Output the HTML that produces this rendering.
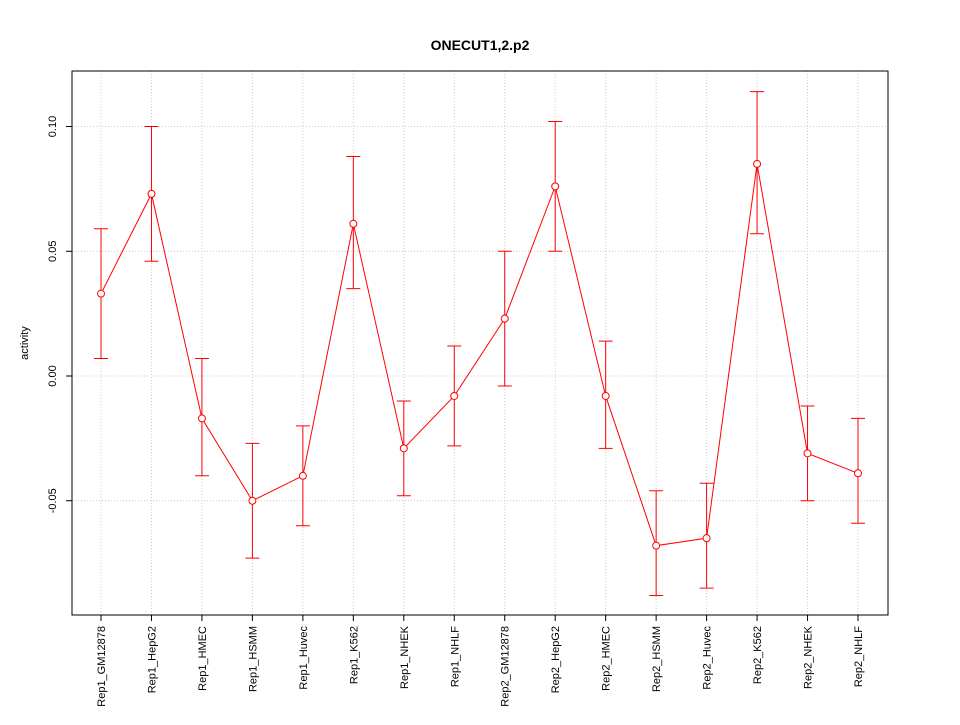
<!DOCTYPE html>
<html><head><meta charset="utf-8">
<style>
body{margin:0;background:#fff;}
svg text{font-family:"Liberation Sans",sans-serif;}
</style></head>
<body>
<svg id="chart" width="960" height="720" xmlns="http://www.w3.org/2000/svg">
<rect width="960" height="720" fill="#fff"/>
<text x="480" y="50" text-anchor="middle" font-size="14" font-weight="bold">ONECUT1,2.p2</text>
<text transform="translate(28,343) rotate(-90)" text-anchor="middle" font-size="11">activity</text>
<g id="grid"></g><g id="axes"></g><g id="marks"></g>
<rect x="72" y="71" width="816" height="544" fill="none" stroke="#000"/>
</svg>
<script>
const categories=["Rep1_GM12878","Rep1_HepG2","Rep1_HMEC","Rep1_HSMM","Rep1_Huvec","Rep1_K562","Rep1_NHEK","Rep1_NHLF","Rep2_GM12878","Rep2_HepG2","Rep2_HMEC","Rep2_HSMM","Rep2_Huvec","Rep2_K562","Rep2_NHEK","Rep2_NHLF"];
const values=[0.033,0.073,-0.017,-0.050,-0.040,0.061,-0.029,-0.008,0.023,0.076,-0.008,-0.068,-0.065,0.085,-0.031,-0.039];
const upper=[0.059,0.100,0.007,-0.027,-0.020,0.088,-0.010,0.012,0.050,0.102,0.014,-0.046,-0.043,0.114,-0.012,-0.017];
const lower=[0.007,0.046,-0.040,-0.073,-0.060,0.035,-0.048,-0.028,-0.004,0.050,-0.029,-0.088,-0.085,0.057,-0.050,-0.059];
const yTicks=[-0.05,0.00,0.05,0.10];
const yTickLabels=["-0.05","0.00","0.05","0.10"];
const NS="http://www.w3.org/2000/svg";
const x=i=>101+i*(858-101)/(categories.length-1);
const y=v=>376-v*2495;
function mk(tag,attrs,parent){const e=document.createElementNS(NS,tag);for(const k in attrs)e.setAttribute(k,attrs[k]);document.getElementById(parent).appendChild(e);return e;}
yTicks.forEach((t,i)=>{
 const g=mk("line",{x1:72,x2:888,y1:y(t),y2:y(t),stroke:"#ccc","stroke-dasharray":"1,2"},"grid");
 
 
 const tk=mk("line",{x1:66,x2:72,y1:y(t),y2:y(t),stroke:"#000"},"axes");
 
 
 const tx=mk("text",{transform:`translate(56,${y(t)}) rotate(-90)`,"text-anchor":"middle","font-size":"11"},"axes");
 tx.textContent=yTickLabels[i];
 
 
});
categories.forEach((c,i)=>{
 const g=mk("line",{x1:x(i),x2:x(i),y1:71,y2:615,stroke:"#ccc","stroke-dasharray":"1,2"},"grid");
 
 
 const tk=mk("line",{x1:x(i),x2:x(i),y1:615,y2:621,stroke:"#000"},"axes");
 
 
 const tx=mk("text",{transform:`translate(${x(i)+4},626) rotate(-90)`,"text-anchor":"end","font-size":"11"},"axes");
 tx.textContent=c;
 
 
 const eb=mk("path",{d:`M${x(i)},${y(upper[i])}V${y(lower[i])}M${x(i)-7},${y(upper[i])}H${x(i)+7}M${x(i)-7},${y(lower[i])}H${x(i)+7}`,stroke:"#f00",fill:"none"},"marks");
 
 
});
const line=mk("polyline",{points:values.map((v,i)=>x(i)+","+y(v)).join(" "),stroke:"#f00",fill:"none"},"marks");


values.forEach((v,i)=>{
 const p=mk("circle",{cx:x(i),cy:y(v),r:3.5,fill:"#fff",stroke:"#f00"},"marks");
 
 
});
</script>
</body></html>
